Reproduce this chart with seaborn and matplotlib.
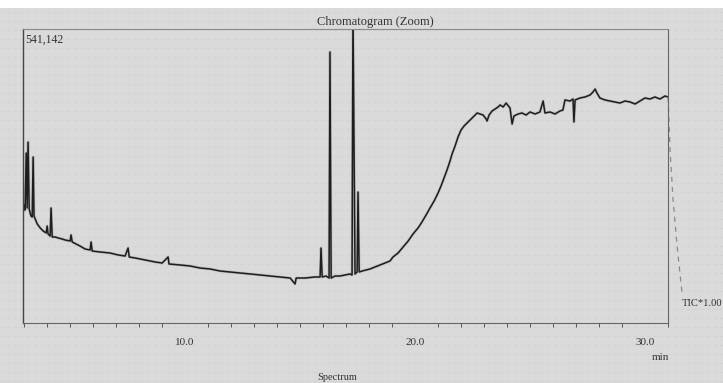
import matplotlib
matplotlib.use("Agg")
import matplotlib.pyplot as plt
import seaborn as sns
import pandas as pd
from matplotlib.patches import Rectangle
from matplotlib.lines import Line2D
from matplotlib.ticker import MultipleLocator, FixedLocator

# retention time (min)
time_min = [
    2.96, 3.00, 3.04, 3.09, 3.13, 3.17, 3.22, 3.26, 3.30, 3.35, 3.39, 3.43, 3.48, 3.57,
    3.70, 3.83, 3.96, 4.00, 4.04, 4.13, 4.17, 4.22, 4.35, 4.48, 4.65, 4.78, 5.00, 5.04,
    5.09, 5.26, 5.43, 5.65, 5.87, 5.91, 5.96, 6.30, 6.74, 7.09, 7.39, 7.52, 7.57, 7.83,
    8.26, 8.70, 9.00, 9.26, 9.30, 9.78, 10.22, 10.65, 11.09, 11.52, 11.96, 12.39, 12.83,
    13.26, 13.70, 14.13, 14.57, 14.78, 14.83, 15.22, 15.65, 15.87, 15.91, 15.96, 16.13,
    16.26, 16.30, 16.35, 16.52, 16.74, 16.96, 17.17, 17.26, 17.30, 17.39, 17.48, 17.52,
    17.57, 17.70, 17.87, 18.04, 18.26, 18.48, 18.70, 18.91, 19.04, 19.26, 19.48, 19.70,
    19.91, 20.13, 20.30, 20.48, 20.65, 20.83, 21.00, 21.13, 21.26, 21.39, 21.52, 21.61,
    21.74, 21.87, 22.00, 22.13, 22.26, 22.39, 22.52, 22.70, 22.83, 22.96, 23.09, 23.13,
    23.22, 23.35, 23.48, 23.61, 23.70, 23.83, 23.96, 24.13, 24.22, 24.30, 24.48, 24.65,
    24.83, 25.00, 25.22, 25.43, 25.57, 25.65, 25.87, 26.09, 26.30, 26.43, 26.52, 26.74,
    26.87, 26.91, 26.96, 27.17, 27.39, 27.61, 27.74, 27.83, 27.91, 28.04, 28.26, 28.48,
    28.70, 28.91, 29.13, 29.35, 29.57, 29.78, 30.00, 30.22, 30.43, 30.65, 30.87, 31.00,
]
# TIC intensity (thousand counts)
intensity_k = [
    204.3, 217.2, 208.0, 312.9, 211.7, 333.1, 209.8, 202.5, 196.9, 195.1, 305.5, 196.9, 191.4, 182.2,
    174.9, 169.3, 165.7, 178.5, 163.8, 160.1, 211.7, 158.3, 158.3, 156.5, 154.6, 152.8, 150.9, 162.0,
    149.1, 145.4, 141.7, 136.2, 134.4, 149.1, 132.5, 130.7, 128.8, 125.2, 123.3, 138.0, 121.5, 119.6,
    116.0, 112.3, 110.4, 121.5, 108.6, 106.8, 104.9, 101.2, 99.4, 95.7, 93.9, 92.0, 90.2,
    88.3, 86.5, 84.7, 82.8, 71.8, 82.8, 82.8, 84.7, 84.7, 138.0, 84.7, 86.5,
    82.8, 498.8, 82.8, 86.5, 86.5, 88.3, 90.2, 88.3, 575.0, 90.2, 93.9, 241.1,
    93.9, 95.7, 97.6, 99.4, 103.1, 106.8, 110.4, 114.1, 121.5, 128.8, 139.9, 150.9,
    163.8, 174.9, 185.9, 198.8, 211.7, 224.6, 239.3, 252.2, 266.9, 281.6, 298.2, 311.1,
    325.8, 342.4, 355.2, 362.6, 368.1, 373.6, 379.2, 386.5, 384.7, 382.8, 375.5, 371.8,
    382.8, 390.2, 393.9, 397.6, 401.3, 397.6, 404.9, 395.7, 366.3, 381.0, 384.7, 386.5,
    382.8, 388.4, 384.7, 388.4, 408.6, 386.5, 388.4, 384.7, 390.2, 392.0, 410.5, 408.6,
    412.3, 370.0, 410.5, 414.1, 416.0, 419.7, 425.2, 430.7, 423.3, 414.1, 410.5, 408.6,
    406.8, 404.9, 408.6, 406.8, 403.1, 408.6, 414.1, 412.3, 416.0, 412.3, 417.8, 416.0,
]
# continuation of the trace beyond the window (dashed)
tail_time = [31.00, 31.09, 31.22, 31.40, 31.61]
tail_intensity_k = [416.0, 318.4, 226.4, 140.0, 55.2]

x_ticks = [10.0, 20.0, 30.0]
x_tick_labels = ["10.0", "20.0", "30.0"]
y_max_label = "541,142"

df = pd.DataFrame({"time": time_min, "tic": intensity_k})
tail = pd.DataFrame({"time": tail_time, "tic": tail_intensity_k})

BG = "#dadada"
sns.set_theme(style="white")
plt.rcParams["font.family"] = ["Liberation Serif", "DejaVu Serif"]

fig = plt.figure(figsize=(7.23, 3.83), dpi=100, facecolor=BG)
fig.patches.append(Rectangle((0, 1 - 8 / 383), 1, 8 / 383, transform=fig.transFigure,
                             facecolor="white", edgecolor="none", zorder=-2))
# faint scan-line texture (behind the chart)
for k in range(12, 383, 9):
    fy = 1 - k / 383
    fig.add_artist(Line2D([0, 1], [fy, fy], transform=fig.transFigure, color="#d2d2d2",
                          lw=0.8, linestyle=(0, (3, 3)), zorder=-1))

ax = fig.add_axes([23 / 723, 1 - 323 / 383, (668 - 23) / 723, (323 - 29) / 383])
ax.patch.set_alpha(0)

sns.lineplot(data=df, x="time", y="tic", ax=ax, color="#4a4a4a", lw=2.0, alpha=0.22,
             estimator=None, sort=False, legend=False)
sns.lineplot(data=df, x="time", y="tic", ax=ax, color="#1e1e1e", lw=1.1,
             estimator=None, sort=False, legend=False)
tl = sns.lineplot(data=tail, x="time", y="tic", ax=ax, color="#8a8a8a", lw=0.9,
                  estimator=None, sort=False, legend=False)
tl.lines[-1].set_linestyle((0, (4, 4)))
tl.lines[-1].set_clip_on(False)

ax.set_xlim(2.95, 31.0)
ax.set_ylim(0, 541.142)
ax.set_xlabel("")
ax.set_ylabel("")
ax.set_yticks([])
ax.xaxis.set_major_locator(FixedLocator(x_ticks))
ax.set_xticklabels(x_tick_labels)
ax.xaxis.set_minor_locator(MultipleLocator(1.0))
ax.tick_params(axis="x", which="major", direction="out", length=5, width=0.8,
               color="#555555", labelsize=8, labelcolor="#333333", pad=6)
ax.tick_params(axis="x", which="minor", direction="out", length=3, width=0.7,
               color="#555555", bottom=True)
for side, sp in ax.spines.items():
    sp.set_visible(True)
    sp.set_color("#666666")
    sp.set_linewidth(0.8)
ax.spines["left"].set_color("#444444")
ax.spines["left"].set_linewidth(1.0)
ax.spines["top"].set_color("#8a8a8a")

fig.text(375 / 723, 1 - 22 / 383, "Chromatogram (Zoom)", ha="center", va="center",
         fontsize=9, color="#333333")
ax.text(0.004, 0.985, y_max_label, transform=ax.transAxes, ha="left", va="top",
        fontsize=8.5, color="#333333")
fig.text(682 / 723, 1 - 303 / 383, "TIC*1.00", ha="left", va="center",
         fontsize=7.6, color="#333333")
fig.text(660 / 723, 1 - 357 / 383, "min", ha="center", va="center",
         fontsize=8, color="#333333")
fig.text(337 / 723, 1 - 378 / 383, "Spectrum", ha="center", va="center",
         fontsize=7.5, color="#333333")

fig.savefig("out.png", dpi=100, facecolor=BG)
